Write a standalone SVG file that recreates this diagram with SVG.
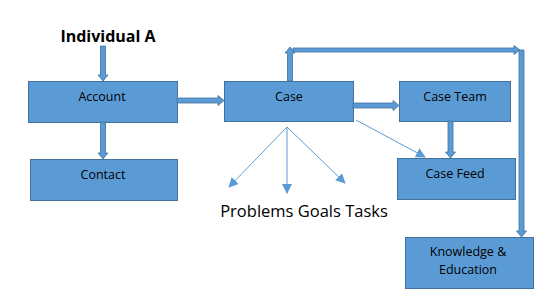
<svg xmlns="http://www.w3.org/2000/svg" width="536" height="307" viewBox="0 0 536 307">
<style>
.box{fill:#5B9BD5;stroke:#41719C;stroke-width:1}
.lbl{font-family:"Open Sans","Liberation Sans",sans-serif;font-size:12.5px;fill:#000;text-anchor:middle}
.blk{fill:#5B9BD5;stroke:#41719C;stroke-width:0.8}
.thin{stroke:#5B9BD5;stroke-width:1;fill:none;marker-end:url(#ah)}
</style>
<defs>
<marker id="ah" viewBox="0 0 10 10" refX="9" refY="5" markerWidth="10" markerHeight="10" markerUnits="userSpaceOnUse" orient="auto">
<path d="M0,0 L10,5 L0,10 Z" fill="#5B9BD5"/>
</marker>
</defs>
<rect width="536" height="307" fill="#fff"/>
<g id="individual-a"><text x="108" y="42" font-family="'Open Sans','Liberation Sans',sans-serif" font-size="16" font-weight="bold" text-anchor="middle">Individual A</text></g>
<g id="account"><rect class="box" x="28.5" y="81.5" width="149" height="41"/><text class="lbl" x="102" y="101">Account</text></g>
<g id="contact"><rect class="box" x="30.5" y="159.5" width="147" height="41"/><text class="lbl" x="103" y="179">Contact</text></g>
<g id="case"><rect class="box" x="224.5" y="81.5" width="129" height="40"/><text class="lbl" x="289" y="101">Case</text></g>
<g id="case-team"><rect class="box" x="399.5" y="81.5" width="111" height="40"/><text class="lbl" x="455" y="101">Case Team</text></g>
<g id="case-feed"><rect class="box" x="397.5" y="158.5" width="118" height="41"/><text class="lbl" x="455" y="178">Case Feed</text></g>
<g id="knowledge"><rect class="box" x="405.5" y="237.5" width="128" height="51"/><text class="lbl" x="468" y="256">Knowledge &amp;</text><text class="lbl" x="468" y="274">Education</text></g>
<g id="pgt"><text x="304" y="217" font-family="'Open Sans','Liberation Sans',sans-serif" font-size="16.5" text-anchor="middle">Problems Goals Tasks</text></g>
<g id="connectors">
<polygon class="blk" points="100.5,46 105.5,46 105.5,75 108,75 103,81 98,75 100.5,75"/>
<polygon class="blk" points="100.5,122 105.5,122 105.5,153 108,153 103,159 98,153 100.5,153"/>
<polygon class="blk" points="177,98 218,98 218,95.5 224,100.5 218,105.5 218,103 177,103"/>
<polygon class="blk" points="353,103 393,103 393,100.5 399,105.5 393,110.5 393,108 353,108"/>
<polygon class="blk" points="448,121 453,121 453,152 455.5,152 450.5,158 445.5,152 448,152"/>
<polygon class="blk" points="287.5,81 292.5,81 292.5,53 295,53 290,47 285,53 287.5,53"/>
<polygon class="blk" points="293,48 514,48 514,45.5 520,50 514,54.5 514,52 293,52"/>
<polygon class="blk" points="519,50 524,50 524,231 526.5,231 521.5,237 516.5,231 519,231"/>
<line class="thin" x1="356" y1="120" x2="425" y2="157"/>
<line class="thin" x1="287" y1="127" x2="229" y2="187"/>
<line class="thin" x1="287" y1="127" x2="287" y2="193"/>
<line class="thin" x1="287" y1="127" x2="345" y2="183"/>
</g>
</svg>
